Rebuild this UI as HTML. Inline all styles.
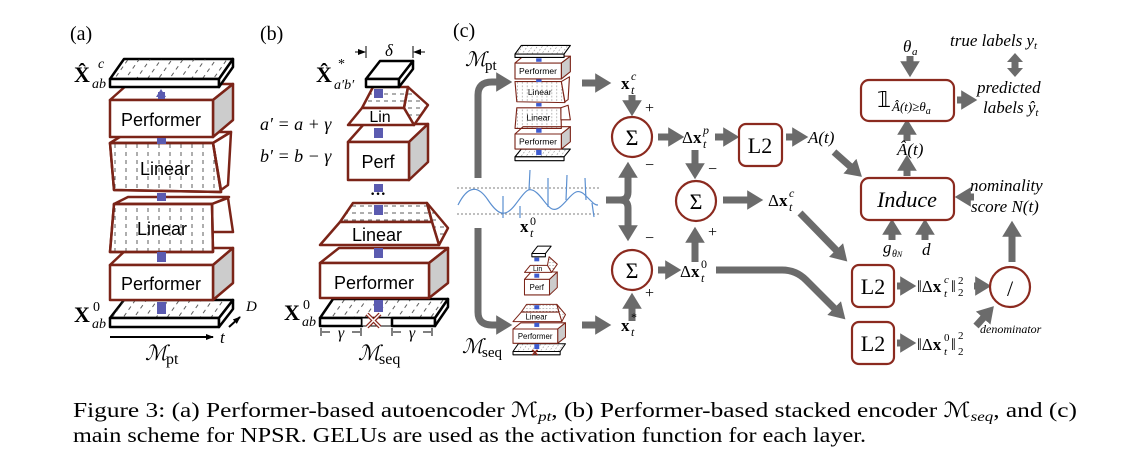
<!DOCTYPE html>
<html><head><meta charset="utf-8"><style>
html,body{margin:0;padding:0;background:#fff;}
svg{display:block;}
text{font-family:"Liberation Serif",serif;}
.s{font-family:"Liberation Sans",sans-serif;}
</style></head><body>
<svg width="1148" height="460" viewBox="0 0 1148 460" xmlns="http://www.w3.org/2000/svg">
<defs>
<pattern id="hv" width="11" height="8" patternUnits="userSpaceOnUse"><line x1="5" y1="0" x2="5" y2="4" stroke="#333" stroke-width="0.8"/></pattern>
<pattern id="hh" width="8" height="7" patternUnits="userSpaceOnUse"><line x1="0" y1="3" x2="4" y2="3" stroke="#333" stroke-width="0.8"/></pattern>
<pattern id="hd" width="9" height="8" patternUnits="userSpaceOnUse" patternTransform="rotate(35)"><line x1="4" y1="0" x2="4" y2="4" stroke="#333" stroke-width="0.8"/></pattern>
<marker id="ah" markerWidth="2.6" markerHeight="2.8" refX="0.4" refY="1.4" orient="auto"><path d="M0,0 L2.3,1.4 L0,2.8 Z" fill="#6b6b6b"/></marker>
<marker id="bk" markerWidth="8" markerHeight="8" refX="7" refY="4" orient="auto" markerUnits="userSpaceOnUse"><path d="M0,1 L8,4 L0,7 Z" fill="#000"/></marker>
</defs>

<!-- ================= Panel (a) ================= -->
<text x="70" y="40" font-size="20">(a)</text>
<g stroke-linejoin="round">
 <polygon points="110,318 124,300 233,300 219,318" fill="#fff" stroke="#000" stroke-width="2.5"/>
 <polygon points="110,318 124,300 233,300 219,318" fill="url(#hd)"/>
 <rect x="110" y="318" width="109" height="9" fill="#fff" stroke="#000" stroke-width="2.5"/>
 <polygon points="219,318 233,300 233,309 219,327" fill="#fff" stroke="#000" stroke-width="2.5"/>
 <polygon points="110,265 128,248 233,248 213,265" fill="#fff" stroke="#7b2418" stroke-width="2.5"/>
 <polygon points="213,265 233,248 233,283 213,300" fill="#ccc" stroke="#7b2418" stroke-width="2.5"/>
 <rect x="110" y="265" width="103" height="35" fill="#fff" stroke="#7b2418" stroke-width="2.5"/>
 <text class="s" x="161" y="290" font-size="18" text-anchor="middle">Performer</text>
 <polygon points="114,204 128,197 229,197 212,204" fill="#fff" stroke="#7b2418" stroke-width="2.5"/>
 <polygon points="212,204 228,198 233,232 212,232" fill="#fff" stroke="#7b2418" stroke-width="2.5"/>
 <polygon points="114,204 212,204 213,252 110,252" fill="#fff" stroke="#7b2418" stroke-width="2.5"/>
 <polygon points="114,204 212,204 213,252 110,252" fill="url(#hv)" stroke="#7b2418" stroke-width="2.5"/>
 <text class="s" x="162" y="235" font-size="18" text-anchor="middle">Linear</text>
 <polygon points="110,143 128,132 231,132 213,143" fill="#fff" stroke="#7b2418" stroke-width="2.5"/>
 <polygon points="213,143 231,132 228,185 221,190" fill="#fff" stroke="#7b2418" stroke-width="2.5"/>
 <polygon points="110,143 213,143 221,192 114,190" fill="#fff" stroke="#7b2418" stroke-width="2.5"/>
 <polygon points="110,143 213,143 221,192 114,190" fill="url(#hv)" stroke="#7b2418" stroke-width="2.5"/>
 <text class="s" x="165" y="175" font-size="18" text-anchor="middle">Linear</text>
 <polygon points="110,100 128,84 233,84 213,100" fill="#fff" stroke="#7b2418" stroke-width="2.5"/>
 <polygon points="213,100 233,84 233,120 213,137" fill="#ccc" stroke="#7b2418" stroke-width="2.5"/>
 <rect x="110" y="100" width="103" height="37" fill="#fff" stroke="#7b2418" stroke-width="2.5"/>
 <text class="s" x="161" y="126" font-size="18" text-anchor="middle">Performer</text>
 <polygon points="110,79 124,59 233,59 219,79" fill="#fff" stroke="#000" stroke-width="2.5"/>
 <polygon points="110,79 124,59 233,59 219,79" fill="url(#hd)"/>
 <rect x="110" y="79" width="109" height="8" fill="#fff" stroke="#000" stroke-width="2.5"/>
 <polygon points="219,79 233,59 233,67 219,87" fill="#fff" stroke="#000" stroke-width="2.5"/>
 <g fill="#5b5bb0">
  <path d="M156,97 L161,89 L166,97 Z"/><rect x="158" y="92" width="7" height="7"/>
  <rect x="157" y="138" width="9" height="6"/>
  <rect x="157" y="193" width="9" height="8"/><rect x="157" y="252" width="9" height="10"/>
  <rect x="157" y="302" width="9" height="12"/>
 </g>
</g>
<text x="74" y="82" font-size="22" font-weight="bold">X̂</text><text x="92" y="88" font-size="14" font-style="italic">ab</text><text x="98" y="68" font-size="14" font-style="italic">c</text>
<text x="74" y="322" font-size="22" font-weight="bold">X</text><text x="92" y="328" font-size="14" font-style="italic">ab</text><text x="93" y="311" font-size="14">0</text>
<line x1="110" y1="337" x2="213" y2="337" stroke="#000" stroke-width="2" marker-end="url(#bk)"/>
<text x="220" y="343" font-size="17" font-style="italic">t</text>
<line x1="229" y1="327" x2="240" y2="317" stroke="#000" stroke-width="2" marker-end="url(#bk)"/>
<text x="246" y="311" font-size="15" font-style="italic">D</text>
<text x="145" y="360" font-size="21" font-style="italic">ℳ</text><text x="166" y="364" font-size="16">pt</text>

<!-- ================= Panel (b) ================= -->
<text x="260" y="40" font-size="20">(b)</text>
<g stroke-linejoin="round">
 <polygon points="320,318 333,299 448,299 435,318" fill="url(#hd)" stroke="#000" stroke-width="2.5"/>
 <rect x="320" y="318" width="42" height="8" fill="#fff" stroke="#000" stroke-width="2.5"/>
 <rect x="362" y="318" width="30" height="8" fill="#fff" stroke="#000" stroke-width="1"/>
 <rect x="392" y="318" width="43" height="8" fill="#fff" stroke="#000" stroke-width="2.5"/>
 <polygon points="435,318 448,299 448,307 435,326" fill="#fff" stroke="#000" stroke-width="2.5"/>
 <path d="M367,314 L380,327 M380,314 L367,327" stroke="#8b2a1f" stroke-width="4"/>
 <path d="M367,314 L380,327 M380,314 L367,327" stroke="#fff" stroke-width="1.5"/>
 <polygon points="320,263 339,248 448,248 429,263" fill="#fff" stroke="#7b2418" stroke-width="2.5"/>
 <polygon points="429,263 448,248 448,283 429,298" fill="#ccc" stroke="#7b2418" stroke-width="2.5"/>
 <rect x="320" y="263" width="109" height="35" fill="#fff" stroke="#7b2418" stroke-width="2.5"/>
 <text class="s" x="374" y="289" font-size="18" text-anchor="middle">Performer</text>
 <polygon points="340,222 353,203 427,203 432,222" fill="url(#hh)" stroke="#7b2418" stroke-width="2.5"/>
 <polygon points="432,222 427,203 448,228 439,245" fill="url(#hh)" stroke="#7b2418" stroke-width="2.5"/>
 <polygon points="340,222 432,222 439,245 320,245" fill="#fff" stroke="#7b2418" stroke-width="2.5"/>
 <text class="s" x="377" y="241" font-size="18" text-anchor="middle">Linear</text>
 <text x="378" y="199" font-size="16" font-weight="bold" text-anchor="middle">···</text>
 <polygon points="348,142 364,124 428,124 409,142" fill="#fff" stroke="#7b2418" stroke-width="2.5"/>
 <polygon points="409,142 428,124 428,162 409,180" fill="#ccc" stroke="#7b2418" stroke-width="2.5"/>
 <rect x="348" y="142" width="61" height="38" fill="#fff" stroke="#7b2418" stroke-width="2.5"/>
 <text class="s" x="378" y="168" font-size="18" text-anchor="middle">Perf</text>
 <polygon points="362,108 373,87 408,87 404,108" fill="url(#hh)" stroke="#7b2418" stroke-width="2.5"/>
 <polygon points="404,108 408,87 428,105 414,125" fill="url(#hh)" stroke="#7b2418" stroke-width="2.5"/>
 <polygon points="362,108 404,108 414,125 348,125" fill="#fff" stroke="#7b2418" stroke-width="2.5"/>
 <text class="s" x="380" y="122" font-size="16" text-anchor="middle">Lin</text>
 <polygon points="366,79 380,61 413,61 399,79" fill="#fff" stroke="#000" stroke-width="2.5"/>
 <rect x="366" y="79" width="33" height="8" fill="#fff" stroke="#000" stroke-width="2.5"/>
 <polygon points="399,79 413,61 413,69 399,87" fill="#fff" stroke="#000" stroke-width="2.5"/>
 <g fill="#5b5bb0">
  <rect x="374" y="89" width="9" height="9"/><rect x="374" y="128" width="9" height="10"/>
  <rect x="374" y="184" width="9" height="8"/><rect x="374" y="205" width="9" height="10"/>
  <rect x="374" y="248" width="9" height="10"/><rect x="374" y="300" width="9" height="12"/>
 </g>
</g>
<line x1="366" y1="46" x2="366" y2="58" stroke="#000" stroke-width="1"/><line x1="413" y1="46" x2="413" y2="58" stroke="#000" stroke-width="1"/>
<line x1="355" y1="52" x2="365" y2="52" stroke="#000" stroke-width="1" marker-end="url(#bk)"/>
<line x1="425" y1="52" x2="414" y2="52" stroke="#000" stroke-width="1" marker-end="url(#bk)"/>
<text x="389" y="56" font-size="17" font-style="italic" text-anchor="middle">δ</text>
<text x="316" y="82" font-size="22" font-weight="bold">X̂</text><text x="334" y="89" font-size="14" font-style="italic">a′b′</text><text x="338" y="68" font-size="14">*</text>
<text x="260" y="130" font-size="18" font-style="italic">a′ = a + γ</text>
<text x="260" y="162" font-size="18" font-style="italic">b′ = b − γ</text>
<text x="284" y="320" font-size="22" font-weight="bold">X</text><text x="302" y="326" font-size="14" font-style="italic">ab</text><text x="303" y="309" font-size="14">0</text>
<g stroke="#000" stroke-width="1">
 <line x1="321" y1="328" x2="321" y2="336"/><line x1="361" y1="328" x2="361" y2="336"/>
 <line x1="392" y1="328" x2="392" y2="336"/><line x1="432" y1="328" x2="432" y2="336"/>
 <line x1="322" y1="332" x2="330" y2="332"/><line x1="352" y1="332" x2="360" y2="332"/>
 <line x1="393" y1="332" x2="401" y2="332"/><line x1="423" y1="332" x2="431" y2="332"/>
</g>
<text x="341" y="338" font-size="16" font-style="italic" text-anchor="middle">γ</text>
<text x="412" y="338" font-size="16" font-style="italic" text-anchor="middle">γ</text>
<text x="358" y="360" font-size="21" font-style="italic">ℳ</text><text x="379" y="364" font-size="16">seq</text>

<!-- ================= Panel (c) ================= -->
<text x="453" y="37" font-size="20">(c)</text>
<text x="465" y="66" font-size="20" font-style="italic">ℳ</text><text x="485" y="70" font-size="15">pt</text>
<text x="462" y="353" font-size="20" font-style="italic">ℳ</text><text x="482" y="357" font-size="15">seq</text>

<g transform="translate(515,45) scale(0.45,0.43) translate(-110,-58)" stroke-linejoin="round">
 <polygon points="110,318 124,300 233,300 219,318" fill="url(#hd)" stroke="#000" stroke-width="2.5"/>
 <rect x="110" y="318" width="109" height="9" fill="#fff" stroke="#000" stroke-width="2.5"/>
 <polygon points="110,265 128,248 233,248 213,265" fill="#fff" stroke="#7b2418" stroke-width="2.5"/>
 <polygon points="213,265 233,248 233,283 213,300" fill="#ccc" stroke="#7b2418" stroke-width="2.5"/>
 <rect x="110" y="265" width="103" height="35" fill="#fff" stroke="#7b2418" stroke-width="2.5"/>
 <text class="s" x="161" y="289" font-size="19" text-anchor="middle">Performer</text>
 <polygon points="114,204 212,204 213,252 110,252" fill="url(#hv)" stroke="#7b2418" stroke-width="2.5"/>
 <polygon points="212,204 228,198 233,232 212,232" fill="#fff" stroke="#7b2418" stroke-width="2.5"/>
 <text class="s" x="162" y="234" font-size="19" text-anchor="middle">Linear</text>
 <polygon points="110,143 213,143 221,192 114,190" fill="url(#hv)" stroke="#7b2418" stroke-width="2.5"/>
 <polygon points="213,143 231,132 228,185 221,190" fill="#fff" stroke="#7b2418" stroke-width="2.5"/>
 <text class="s" x="165" y="174" font-size="19" text-anchor="middle">Linear</text>
 <polygon points="110,100 128,84 233,84 213,100" fill="#fff" stroke="#7b2418" stroke-width="2.5"/>
 <polygon points="213,100 233,84 233,120 213,137" fill="#ccc" stroke="#7b2418" stroke-width="2.5"/>
 <rect x="110" y="100" width="103" height="37" fill="#fff" stroke="#7b2418" stroke-width="2.5"/>
 <text class="s" x="161" y="126" font-size="19" text-anchor="middle">Performer</text>
 <polygon points="110,79 124,59 233,59 219,79" fill="url(#hd)" stroke="#000" stroke-width="2.5"/>
 <rect x="110" y="79" width="109" height="8" fill="#fff" stroke="#000" stroke-width="2.5"/>
 <g fill="#3d5bd0"><rect x="157" y="89" width="12" height="8"/><rect x="157" y="138" width="12" height="6"/><rect x="157" y="193" width="12" height="8"/><rect x="157" y="252" width="12" height="10"/><rect x="157" y="302" width="12" height="12"/></g>
</g>
<g transform="translate(513,240) scale(0.41) translate(-320,-46)" stroke-linejoin="round">
 <polygon points="320,318 333,299 448,299 435,318" fill="url(#hd)" stroke="#000" stroke-width="2.5"/>
 <rect x="320" y="318" width="115" height="8" fill="#fff" stroke="#000" stroke-width="2.5"/>
 <path d="M367,314 L380,327 M380,314 L367,327" stroke="#8b2a1f" stroke-width="4"/>
 <polygon points="320,263 339,248 448,248 429,263" fill="#fff" stroke="#7b2418" stroke-width="2.5"/>
 <polygon points="429,263 448,248 448,283 429,298" fill="#ccc" stroke="#7b2418" stroke-width="2.5"/>
 <rect x="320" y="263" width="109" height="35" fill="#fff" stroke="#7b2418" stroke-width="2.5"/>
 <text class="s" x="374" y="288" font-size="19" text-anchor="middle">Performer</text>
 <polygon points="340,222 353,203 427,203 432,222" fill="url(#hh)" stroke="#7b2418" stroke-width="2.5"/>
 <polygon points="432,222 427,203 448,228 439,245" fill="url(#hh)" stroke="#7b2418" stroke-width="2.5"/>
 <polygon points="340,222 432,222 439,245 320,245" fill="#fff" stroke="#7b2418" stroke-width="2.5"/>
 <text class="s" x="377" y="240" font-size="19" text-anchor="middle">Linear</text>
 <polygon points="348,142 364,124 428,124 409,142" fill="#fff" stroke="#7b2418" stroke-width="2.5"/>
 <polygon points="409,142 428,124 428,162 409,180" fill="#ccc" stroke="#7b2418" stroke-width="2.5"/>
 <rect x="348" y="142" width="61" height="38" fill="#fff" stroke="#7b2418" stroke-width="2.5"/>
 <text class="s" x="378" y="168" font-size="19" text-anchor="middle">Perf</text>
 <polygon points="404,108 408,87 428,105 414,125" fill="url(#hh)" stroke="#7b2418" stroke-width="2.5"/>
 <polygon points="362,108 404,108 414,125 348,125" fill="#fff" stroke="#7b2418" stroke-width="2.5"/>
 <text class="s" x="380" y="122" font-size="17" text-anchor="middle">Lin</text>
 <polygon points="366,79 380,61 413,61 399,79" fill="#fff" stroke="#000" stroke-width="2.5"/>
 <rect x="366" y="79" width="33" height="8" fill="#fff" stroke="#000" stroke-width="2.5"/>
 <g fill="#3d5bd0"><rect x="372" y="89" width="12" height="9"/><rect x="372" y="128" width="12" height="10"/><rect x="372" y="205" width="12" height="10"/><rect x="372" y="248" width="12" height="10"/><rect x="372" y="300" width="12" height="12"/></g>
</g>

<!-- waveform -->
<g>
 <line x1="457" y1="188" x2="600" y2="188" stroke="#555" stroke-width="0.8" stroke-dasharray="2,2"/>
 <line x1="457" y1="214" x2="600" y2="214" stroke="#555" stroke-width="0.8" stroke-dasharray="2,2"/>
 <path d="M458,205 C468,185 478,185 488,200 S505,218 515,205 S528,185 537,193 S550,215 560,207 S575,185 585,195 S595,205 598,205" fill="none" stroke="#5b8fd0" stroke-width="1.2"/>
 <path d="M529,190 L530,170 M548,207 L548,178 M566,200 L567,175 M586,200 L585,178 M503,218 L503,196 M520,206 L520,218 M592,203 L594,217" stroke="#5b8fd0" stroke-width="1.2"/>
</g>
<text x="520" y="232" font-size="17" font-weight="bold">x</text><text x="530" y="237" font-size="12" font-style="italic">t</text><text x="530" y="225" font-size="12">0</text>

<!-- gray connectors -->
<g stroke="#6b6b6b" stroke-width="7" fill="none">
 <path d="M478,178 L478,95 Q478,82 492,82 L499,82" marker-end="url(#ah)"/>
 <path d="M478,228 L478,312 Q478,325 492,325 L499,325" marker-end="url(#ah)"/>
 <line x1="582" y1="83" x2="598" y2="83" marker-end="url(#ah)"/>
 <line x1="582" y1="325" x2="598" y2="325" marker-end="url(#ah)"/>
 <line x1="632" y1="95" x2="632" y2="103" marker-end="url(#ah)"/>
 <line x1="632" y1="321" x2="632" y2="306" marker-end="url(#ah)"/>
 <path d="M606,200 L620,200 Q628,200 628,192 L628,175" marker-end="url(#ah)"/>
 <path d="M620,200 Q628,200 628,208 L628,228" marker-end="url(#ah)"/>
 <line x1="658" y1="137" x2="671" y2="137" marker-end="url(#ah)"/>
 <line x1="715" y1="137" x2="726" y2="137" marker-end="url(#ah)"/>
 <line x1="786" y1="137" x2="795" y2="137" marker-end="url(#ah)"/>
 <line x1="695" y1="150" x2="695" y2="166" marker-end="url(#ah)"/>
 <line x1="695" y1="262" x2="695" y2="240" marker-end="url(#ah)"/>
 <line x1="723" y1="200" x2="750" y2="200" marker-end="url(#ah)"/>
 <line x1="658" y1="270" x2="668" y2="270" marker-end="url(#ah)"/>
 <line x1="834" y1="152" x2="852" y2="168" marker-end="url(#ah)"/>
 <line x1="800" y1="213" x2="838" y2="252" marker-end="url(#ah)"/>
 <path d="M716,270 L782,270 Q796,270 806,280 L836,310" marker-end="url(#ah)"/>
 <line x1="910" y1="56" x2="910" y2="64" marker-end="url(#ah)"/>
 <line x1="957" y1="100" x2="964" y2="100" marker-end="url(#ah)"/>
 <line x1="907" y1="141" x2="907" y2="132" marker-end="url(#ah)"/>
 <line x1="907" y1="176" x2="907" y2="168" marker-end="url(#ah)"/>
 <line x1="974" y1="197" x2="968" y2="197" marker-end="url(#ah)"/>
 <line x1="892" y1="240" x2="892" y2="232" marker-end="url(#ah)"/>
 <line x1="925" y1="240" x2="925" y2="232" marker-end="url(#ah)"/>
 <line x1="897" y1="286" x2="903" y2="286" marker-end="url(#ah)"/>
 <line x1="897" y1="343" x2="903" y2="343" marker-end="url(#ah)"/>
 <line x1="974" y1="286" x2="978" y2="286" marker-end="url(#ah)"/>
 <line x1="976" y1="326" x2="985" y2="316" marker-end="url(#ah)"/>
 <line x1="1012" y1="262" x2="1012" y2="234" marker-end="url(#ah)"/>
 <line x1="1015" y1="62" x2="1015" y2="68"/>
</g>
<path d="M1015,53 L1023,62 L1007,62 Z M1015,77 L1023,68 L1007,68 Z" fill="#6b6b6b"/>

<!-- nodes -->
<g fill="#fff" stroke="#8b2a1f" stroke-width="2.2">
 <circle cx="632" cy="137" r="20"/><circle cx="696" cy="201" r="20"/><circle cx="632" cy="270" r="20"/>
 <circle cx="1010" cy="287" r="20"/>
 <rect x="739" y="124" width="43" height="42" rx="7"/>
 <rect x="861" y="80" width="93" height="41" rx="8"/>
 <rect x="861" y="178" width="93" height="42" rx="8"/>
 <rect x="852" y="265" width="42" height="42" rx="7"/>
 <rect x="852" y="322" width="42" height="42" rx="7"/>
</g>
<g font-size="22" text-anchor="middle">
 <text x="632" y="145">Σ</text><text x="696" y="209">Σ</text><text x="632" y="278">Σ</text>
 <text x="1010" y="296">/</text>
 <text x="760" y="153">L2</text><text x="873" y="294">L2</text><text x="873" y="351">L2</text>
</g>
<text x="907" y="207" font-size="22" font-style="italic" text-anchor="middle">Induce</text>
<text x="877" y="107" font-size="22">𝟙</text><text x="892" y="111" font-size="13" font-style="italic">Â(t)≥θ<tspan font-size="10" dy="3">a</tspan></text>

<g font-size="17">
 <text x="621" y="89" font-weight="bold">x</text><text x="631" y="94" font-size="12" font-style="italic">t</text><text x="631" y="80" font-size="12" font-style="italic">c</text>
 <text x="621" y="331" font-weight="bold">x</text><text x="631" y="336" font-size="12" font-style="italic">t</text><text x="631" y="321" font-size="12">*</text>
 <text x="682" y="143">Δ<tspan font-weight="bold">x</tspan></text><text x="703" y="148" font-size="12" font-style="italic">t</text><text x="703" y="134" font-size="12" font-style="italic">p</text>
 <text x="680" y="277">Δ<tspan font-weight="bold">x</tspan></text><text x="701" y="282" font-size="12" font-style="italic">t</text><text x="701" y="268" font-size="12">0</text>
 <text x="768" y="206">Δ<tspan font-weight="bold">x</tspan></text><text x="789" y="211" font-size="12" font-style="italic">t</text><text x="789" y="197" font-size="12" font-style="italic">c</text>
 <text x="808" y="143" font-style="italic">A(t)</text>
 <text x="897" y="155" font-style="italic">Â(t)</text>
 <text x="903" y="52" font-style="italic">θ</text><text x="912" y="55" font-size="11" font-style="italic">a</text>
 <text x="883" y="253" font-style="italic">g</text><text x="892" y="257" font-size="10" font-style="italic">θ<tspan font-size="8">N</tspan></text>
 <text x="922" y="255" font-style="italic">d</text>
 <text x="950" y="46" font-style="italic">true labels y<tspan font-size="11" dy="3">t</tspan></text>
 <text x="977" y="93" font-style="italic">predicted</text>
 <text x="983" y="113" font-style="italic">labels ŷ<tspan font-size="11" dy="3">t</tspan></text>
 <text x="970" y="191" font-style="italic">nominality</text>
 <text x="971" y="212" font-style="italic">score N(t)</text>
 <text x="917" y="292">‖Δ<tspan font-weight="bold">x</tspan></text><text x="944" y="297" font-size="11" font-style="italic">t</text><text x="944" y="283" font-size="11" font-style="italic">c</text><text x="951" y="292">‖</text><text x="958" y="296" font-size="11">2</text><text x="958" y="284" font-size="11">2</text>
 <text x="917" y="350">‖Δ<tspan font-weight="bold">x</tspan></text><text x="944" y="355" font-size="11" font-style="italic">t</text><text x="944" y="341" font-size="11">0</text><text x="951" y="350">‖</text><text x="958" y="355" font-size="11">2</text><text x="958" y="339" font-size="11">2</text>
 <text x="980" y="333" font-size="12" font-style="italic">denominator</text>
</g>
<g font-size="16">
 <text x="645" y="113">+</text><text x="645" y="170">−</text><text x="708" y="174">−</text>
 <text x="708" y="237">+</text><text x="645" y="243">−</text><text x="645" y="298">+</text>
</g>

<!-- caption -->
<text x="73" y="417" font-size="21" textLength="1004" lengthAdjust="spacingAndGlyphs">Figure 3: (a) Performer-based autoencoder ℳ<tspan font-size="14" font-style="italic" dy="4">pt</tspan><tspan dy="-4">, (b) Performer-based stacked encoder ℳ</tspan><tspan font-size="14" font-style="italic" dy="4">seq</tspan><tspan dy="-4">, and (c)</tspan></text>
<text x="73" y="442" font-size="21" textLength="793" lengthAdjust="spacingAndGlyphs">main scheme for NPSR. GELUs are used as the activation function for each layer.</text>
</svg>
</body></html>
